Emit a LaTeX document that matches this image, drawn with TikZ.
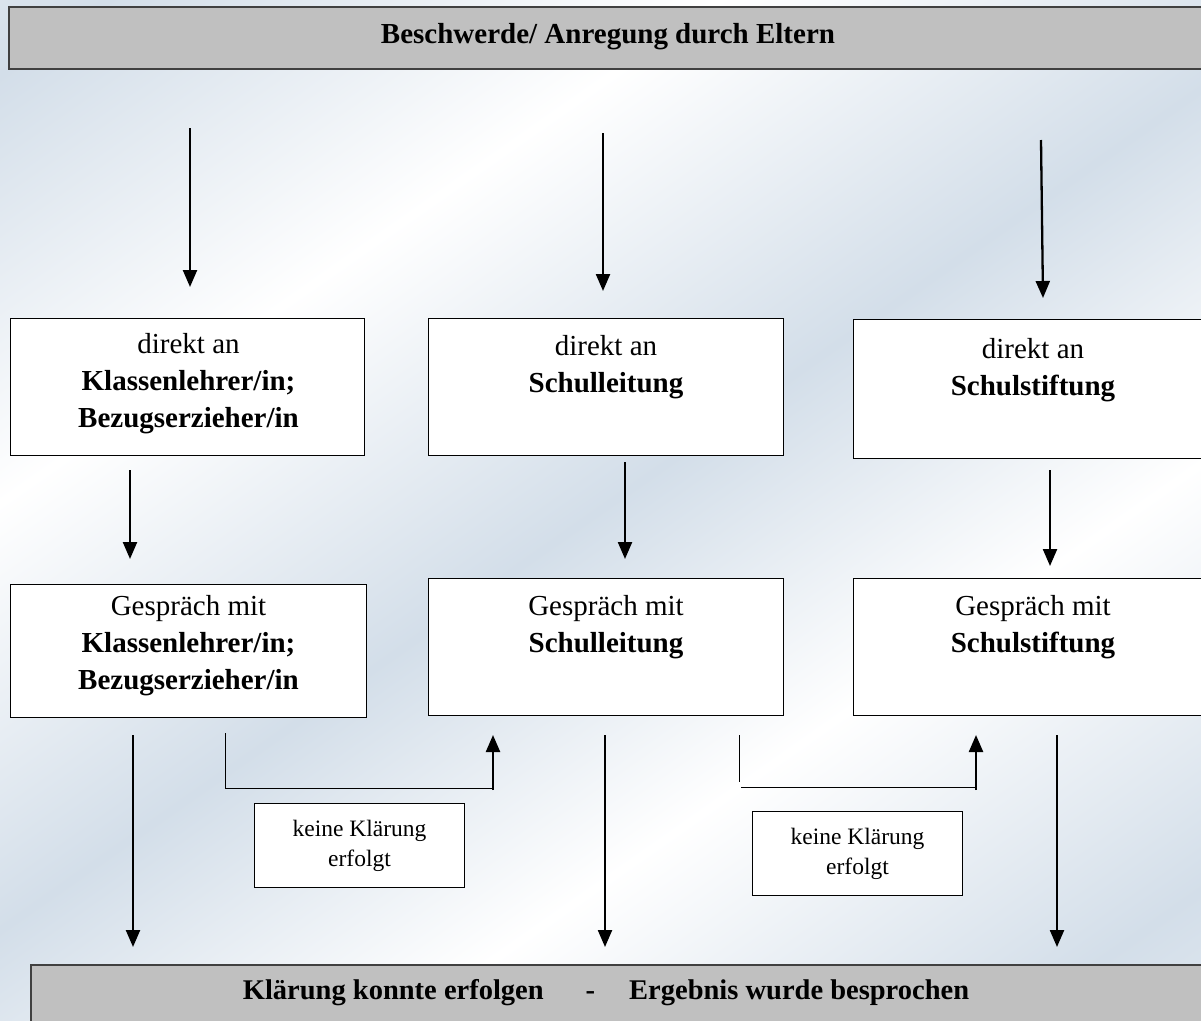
\documentclass[tikz,border=0pt]{standalone}
\usepackage{fontspec}
\setmainfont{Liberation Serif}
\usetikzlibrary{arrows.meta,calc}
\definecolor{bgblue}{RGB}{211,222,233}
\definecolor{bargray}{RGB}{192,192,192}
\pgfdeclarehorizontalshading{streaks}{100bp}{color(0bp)=(white); color(18bp)=(bgblue); color(34bp)=(white); color(50bp)=(bgblue); color(64bp)=(white); color(80bp)=(bgblue); color(100bp)=(white)}
\begin{document}
\begin{tikzpicture}[x=1pt,y=-1pt,
  bar/.style={draw=black!75, line width=1.5pt, fill=bargray, anchor=north west, inner sep=0pt},
  box/.style={draw=black, line width=1pt, fill=white, anchor=north west, inner sep=0pt},
  big/.style={font=\fontsize{29}{37}\selectfont, align=center, inner sep=0pt, anchor=north},
  small/.style={font=\fontsize{23.5}{30}\selectfont, align=center, inner sep=0pt, anchor=north},
  arr/.style={line width=2.3pt, -{Triangle[width=14pt,length=17pt]}},
  thinline/.style={line width=1pt}]
\useasboundingbox (0,0) rectangle (1201,1020);
\shade[shading=streaks, shading angle=-55] (0,0) rectangle (1201,1020);

% bars
\node[bar, minimum width=1205, minimum height=62] (top) at (8,6) {};
\node[font=\fontsize{29}{37}\selectfont\bfseries, inner sep=0pt] (toptext) at (608,37) {Beschwerde/ Anregung durch Eltern};
\node[bar, minimum width=1180, minimum height=70] (bottom) at (30,964) {};
\node[font=\fontsize{28.5}{36}\selectfont\bfseries, inner sep=0pt] (bottomtext) at (606,993) {Klärung konnte erfolgen\hspace{42pt}-\hspace{34pt}Ergebnis wurde besprochen};

% row 1 boxes
\node[box, minimum width=354, minimum height=137] (d1) at (10,318) {};
\node[box, minimum width=355, minimum height=137] (d2) at (428,318) {};
\node[box, minimum width=360, minimum height=139] (d3) at (853,319) {};
\node[big] (d1t) at ($(d1.north)+(1,15)$) {direkt an\\\textbf{Klassenlehrer/in;}\\\textbf{Bezugserzieher/in}};
\node[big] (d2t) at ($(d2.north)+(0,17)$) {direkt an\\\textbf{Schulleitung}};
\node[big] (d3t) at ($(d3.north)+(-0.5,19)$) {direkt an\\\textbf{Schulstiftung}};

% row 2 boxes
\node[box, minimum width=356, minimum height=133] (g1) at (10,584) {};
\node[box, minimum width=355, minimum height=137] (g2) at (428,578) {};
\node[box, minimum width=360, minimum height=137] (g3) at (853,578) {};
\node[big] (g1t) at ($(g1.north)+(0,11)$) {Gespräch mit\\\textbf{Klassenlehrer/in;}\\\textbf{Bezugserzieher/in}};
\node[big] (g2t) at ($(g2.north)+(0,17)$) {Gespräch mit\\\textbf{Schulleitung}};
\node[big] (g3t) at ($(g3.north)+(-0.5,17)$) {Gespräch mit\\\textbf{Schulstiftung}};

% small boxes
\node[box, minimum width=210, minimum height=84] (k1) at (254,803) {};
\node[box, minimum width=210, minimum height=84] (k2) at (752,811) {};
\node[small] (k1t) at ($(k1.north)+(0,17)$) {keine Klärung\\erfolgt};
\node[small] (k2t) at ($(k2.north)+(0,17)$) {keine Klärung\\erfolgt};

% top arrows
\coordinate (a1s) at (190,128); \coordinate (a1e) at (190,287);
\coordinate (a2s) at (603,133); \coordinate (a2e) at (603,291);
\coordinate (a3s) at (1041,140); \coordinate (a3e) at (1043,298);
\draw[arr] (a1s) -- (a1e);
\draw[arr] (a2s) -- (a2e);
\draw[arr] (a3s) -- (a3e);

% middle arrows
\coordinate (b1s) at (130,470); \coordinate (b1e) at (130,559);
\coordinate (b2s) at (625,462); \coordinate (b2e) at (625,559);
\coordinate (b3s) at (1050,470); \coordinate (b3e) at (1050,566);
\draw[arr] (b1s) -- (b1e);
\draw[arr] (b2s) -- (b2e);
\draw[arr] (b3s) -- (b3e);

% bottom arrows
\coordinate (c1s) at (133,735); \coordinate (c1e) at (133,947);
\coordinate (c2s) at (605,735); \coordinate (c2e) at (605,947);
\coordinate (c3s) at (1057,735); \coordinate (c3e) at (1057,947);
\draw[arr] (c1s) -- (c1e);
\draw[arr] (c2s) -- (c2e);
\draw[arr] (c3s) -- (c3e);

% L connectors
\coordinate (l1a) at (225,733); \coordinate (l1b) at (225,788); \coordinate (l1c) at (492,788);
\coordinate (u1s) at (493,790); \coordinate (u1e) at (493,735);
\draw[thinline] (l1a) -- (l1b) -- (l1c);
\draw[arr] (u1s) -- (u1e);
\coordinate (l2a) at (739,735); \coordinate (l2b) at (739,782);
\coordinate (l2c) at (741,787); \coordinate (l2d) at (975,787);
\coordinate (u2s) at (976,790); \coordinate (u2e) at (976,735);
\draw[thinline] (l2a) -- (l2b);
\draw[thinline] (l2c) -- (l2d);
\draw[arr] (u2s) -- (u2e);
\end{tikzpicture}
\end{document}
